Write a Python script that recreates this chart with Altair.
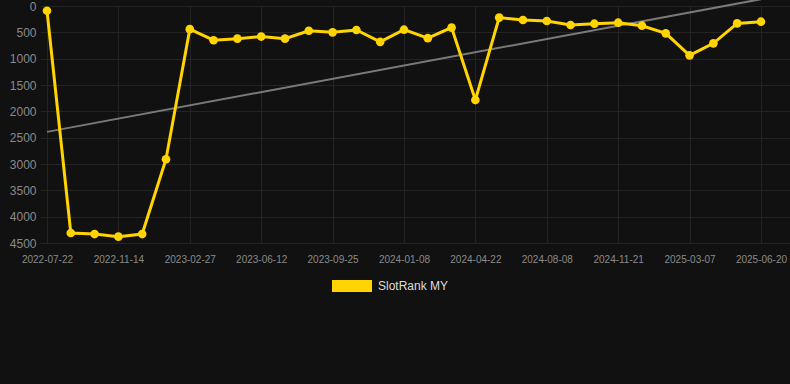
import altair as alt
import pandas as pd

dates = ["2022-07-22", "2022-08-29", "2022-10-10", "2022-11-14", "2022-12-19", "2023-01-23",
         "2023-02-27", "2023-04-03", "2023-05-08", "2023-06-12", "2023-07-17", "2023-08-21",
         "2023-09-25", "2023-10-30", "2023-12-04", "2024-01-08", "2024-02-12", "2024-03-18",
         "2024-04-22", "2024-05-27", "2024-07-01", "2024-08-08", "2024-09-12", "2024-10-17",
         "2024-11-21", "2024-12-26", "2025-01-30", "2025-03-07", "2025-04-11", "2025-05-16",
         "2025-06-20"]
ranks = [90, 4310, 4330, 4380, 4330, 2910, 440, 650, 620, 580, 620, 470, 500, 455, 680, 450,
         610, 410, 1785, 220, 266, 285, 360, 336, 317, 374, 519, 937, 709, 330, 298]
trend_idx = [0, 30]
trend_vals = [2390, -130]
y_ticks = [0, 500, 1000, 1500, 2000, 2500, 3000, 3500, 4000, 4500]
label_idx = list(range(0, 31, 3))
series_name = "SlotRank MY"

df = pd.DataFrame({"i": list(range(len(dates))), "date": dates, "rank": ranks, "series": series_name})
tdf = pd.DataFrame({"i": trend_idx, "rank": trend_vals})

label_array = "[" + ",".join("'" + d + "'" for d in dates) + "]"

xscale = alt.Scale(domain=[-0.294, 31.22], nice=False, zero=False)
yscale = alt.Scale(domain=[0, 4500], reverse=True, nice=False, zero=False)

xaxis = alt.Axis(values=label_idx, labelExpr=label_array + "[datum.value]", title=None,
                 domain=False, ticks=False, grid=True, gridColor="#242424", labelColor="#8a8a8a",
                 labelFontSize=10, labelPadding=11, labelFont="Liberation Sans", labelOverlap=False,
                 labelFlush=False)
yaxis = alt.Axis(values=y_ticks, format="d", title=None, domain=False, ticks=False, grid=True,
                 gridColor="#242424", labelColor="#8a8a8a", labelFontSize=12, labelPadding=4,
                 labelFont="Liberation Sans", labelOverlap=False, labelFlush=False)

X = alt.X("i:Q", scale=xscale, axis=xaxis)
Y = alt.Y("rank:Q", scale=yscale, axis=yaxis)

trend = alt.Chart(tdf).mark_line(color="#7a7a7a", strokeWidth=2, clip=False).encode(x=X, y=Y)

line = alt.Chart(df).mark_line(color="#FFD400", strokeWidth=3).encode(x=X, y=Y)

pts = alt.Chart(df).mark_circle(size=75, opacity=1).encode(
    x=X, y=Y,
    color=alt.Color("series:N", scale=alt.Scale(domain=[series_name], range=["#FFD400"]),
                    legend=alt.Legend(title=None, orient="none", legendX=292, legendY=260,
                                      symbolType="M-1,-0.3H1V0.3H-1Z", symbolSize=1600,
                                      symbolStrokeWidth=0, symbolOpacity=1,
                                      labelColor="#dddddd", labelFontSize=12,
                                      labelFont="Liberation Sans", labelOffset=6)),
)

chart = alt.layer(trend, line, pts).properties(
    width=750, height=237,
    background="#111111",
    padding={"left": 40, "top": 6, "right": 0, "bottom": 141},
    autosize=alt.AutoSizeParams(type="none"),
).configure_view(stroke=None)

chart.save("out.html", embed_options={"renderer": "svg", "actions": False})
